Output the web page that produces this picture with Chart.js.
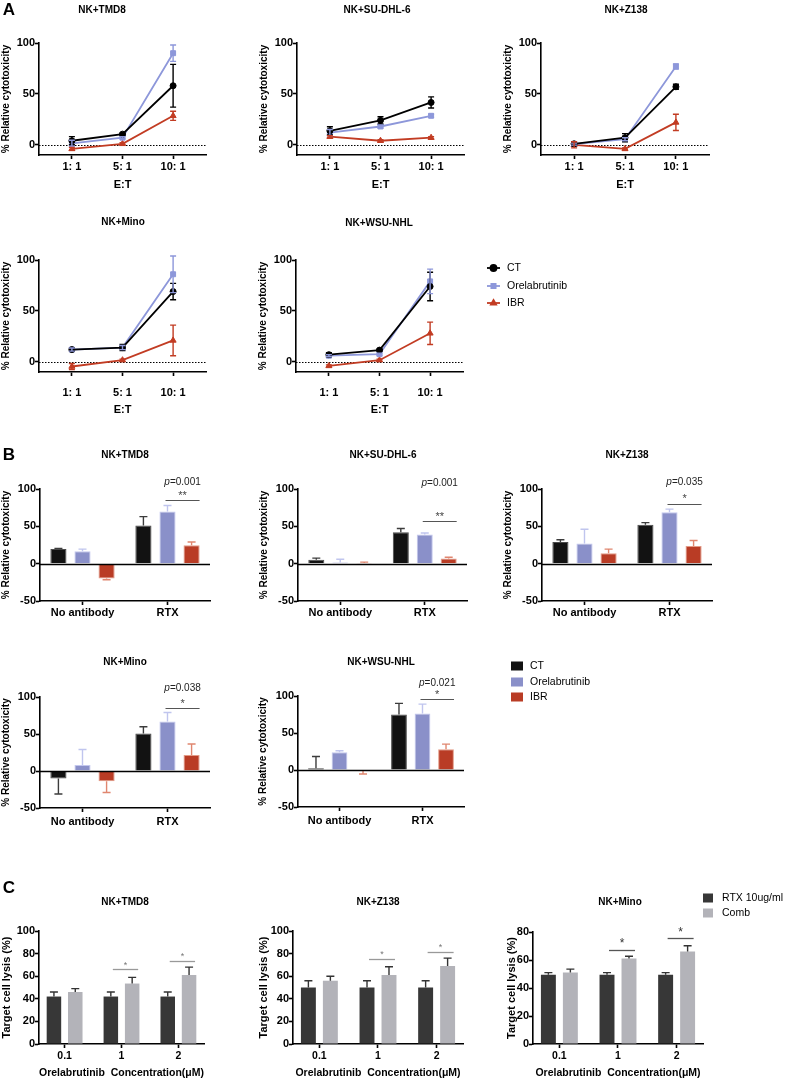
<!DOCTYPE html>
<html>
<head>
<meta charset="utf-8">
<script src="https://cdn.jsdelivr.net/npm/chart.js@4.4.1/dist/chart.umd.min.js"></script>
<style>
  body { margin: 0; background: #fff; width: 791px; height: 1080px; position: relative; overflow: hidden; }
  canvas { position: absolute; }
</style>
</head>
<body>
<script>
// ---- data ----
const etLabels = ['1: 1', '5: 1', '10: 1'];
const bLabels = ['No antibody', 'RTX'];
const cLabels = ['0.1', '1', '2'];
const seriesNames = ['CT', 'Orelabrutinib', 'IBR'];
const cSeriesNames = ['RTX 10ug/ml', 'Comb'];

// panel A: rows CT / Orelabrutinib / IBR, columns E:T 1:1, 5:1, 10:1
const aTMD8 = [[4, 10.5, 58], [1.5, 7, 90], [-4, 1, 28.5]];
const aTMD8Sd = [[4, 1, 21], [3, 1, 8], [1.5, 1, 4.5]];
const aSUDHL6 = [[13.8, 24, 41.6], [12, 18, 28.5], [8, 4, 7]];
const aSUDHL6Sd = [[4, 3.5, 5.5], [3, 1.5, 1.5], [1, 1, 1]];
const aZ138 = [[1, 7, 57], [0.7, 5.5, 77], [0, -4, 22]];
const aZ138Sd = [[2, 4, 2.5], [1, 1.5, 2.5], [3, 1, 8]];
const aMino = [[12, 14, 69], [12, 14, 86], [-4.6, 1.6, 21]];
const aMinoSd = [[1.5, 3, 8], [1.5, 2, 18], [3, 1, 15]];
const aWSU = [[7, 11.5, 74], [6, 7.5, 79], [-4, 1.6, 28]];
const aWSUSd = [[2, 1, 14], [1, 1, 12], [1, 1, 11]];

// panel B: rows CT / Orelabrutinib / IBR, columns No antibody / RTX
const bTMD8 = [[19.5, 51], [16.5, 70], [-20, 24.5]];
const bTMD8Sd = [[1, 12], [3, 8], [1.5, 4.5]];
const bSUDHL6 = [[5.4, 42], [1.5, 39], [1, 6.8]];
const bSUDHL6Sd = [[2, 5], [4.5, 2], [1, 1.7]];
const bZ138 = [[29, 52], [27, 69], [14, 23.5]];
const bZ138Sd = [[3, 3], [19, 4], [5.5, 7.5]];
const bMino = [[-10, 50.7], [8, 67], [-14, 21.5]];
const bMinoSd = [[21, 9], [21, 12], [15, 15]];
const bWSU = [[2.3, 75], [24, 76.5], [-0.5, 28]];
const bWSUSd = [[16, 15], [2, 12.5], [5, 7]];
const bPValues = ['0.001', '0.001', '0.035', '0.038', '0.021'];
const bStars = ['**', '**', '*', '*', '*'];

// panel C: rows RTX 10ug/ml / Comb, columns 0.1, 1, 2 uM
const cTMD8 = [[42, 42, 42], [46, 53.5, 61]];
const cTMD8Sd = [[4, 4, 4], [3, 5.5, 7]];
const cZ138 = [[50, 50, 50], [56, 61, 69]];
const cZ138Sd = [[6, 6, 6], [4, 7.4, 7]];
const cMino = [[49.5, 49.5, 49.5], [51, 61, 66]];
const cMinoSd = [[1.5, 1.5, 1.5], [2.5, 1.7, 4.2]];

// ---- styles ----
const FONT = "'Liberation Sans', Arial, sans-serif";
const lineColors = ['#000000', '#8d97da', '#c23c23'];
const pointStyles = ['circle', 'rect', 'triangle'];
const barFill = ['#121212', '#8a90c9', '#b93c25'];
const barEdge = ['#4a4a4a', '#c3c7ee', '#e39a86'];
const barErr = ['#3c3c3c', '#c0c5ee', '#e0866f'];
const cFill = ['#373737', '#b3b3b9'];

function txt(ctx, s, x, y, font, color, align) {
  ctx.save();
  ctx.font = font;
  ctx.fillStyle = color;
  ctx.textAlign = align || 'center';
  ctx.textBaseline = 'middle';
  ctx.fillText(s, x, y);
  ctx.restore();
}

function zeroLine(chart, z) {
  const {ctx, chartArea: ca, scales: {y}} = chart;
  const py = Math.round(y.getPixelForValue(0)) + 0.5;
  ctx.save();
  ctx.strokeStyle = '#000';
  ctx.lineWidth = z.width;
  ctx.setLineDash(z.dash || []);
  ctx.beginPath();
  ctx.moveTo(ca.left, py);
  ctx.lineTo(ca.right, py);
  ctx.stroke();
  ctx.restore();
}

// error bars, zero line, titles, brackets and legends
const extras = {
  id: 'extras',
  beforeDatasetsDraw(chart, args, o) {
    if (o.zero && !o.zero.front) zeroLine(chart, o.zero);
  },
  afterDatasetsDraw(chart, args, o) {
    const {ctx, scales: {y}} = chart;
    chart.data.datasets.forEach((ds, di) => {
      if (!ds.errors) return;
      const meta = chart.getDatasetMeta(di);
      ctx.save();
      ctx.strokeStyle = ds.errorColor;
      ctx.lineWidth = 1.4;
      meta.data.forEach((el, i) => {
        const d = ds.data[i];
        const v = typeof d === 'object' ? d.y : d;
        const e = ds.errors[i];
        let hi = v + e, lo = v - e;
        if (o.oneSided) {
          if (v >= 0) lo = v; else hi = v;
        }
        const x = el.x, y1 = y.getPixelForValue(hi), y2 = y.getPixelForValue(lo);
        ctx.beginPath();
        ctx.moveTo(x, y1);
        ctx.lineTo(x, y2);
        if (!o.oneSided || v >= 0) { ctx.moveTo(x - o.cap, y1); ctx.lineTo(x + o.cap, y1); }
        if (!o.oneSided || v < 0) { ctx.moveTo(x - o.cap, y2); ctx.lineTo(x + o.cap, y2); }
        ctx.stroke();
      });
      ctx.restore();
    });
    if (o.zero && o.zero.front) zeroLine(chart, o.zero);
  },
  afterDraw(chart, args, o) {
    const {ctx, scales: {y}} = chart;
    const [ox, oy] = o.origin;
    if (o.title) txt(ctx, o.title[0], o.title[1] - ox, o.title[2] - oy, 'bold 10px ' + FONT, '#000');
    if (o.letter) txt(ctx, o.letter[0], o.letter[1] - ox, o.letter[2] - oy, 'bold 17px ' + FONT, '#000');
    (o.brackets || []).forEach(b => {
      const m1 = chart.getDatasetMeta(b.from).data[b.group];
      const m2 = chart.getDatasetMeta(b.to).data[b.group];
      const x1 = m1.x + b.dx1, x2 = m2.x + b.dx2, cx = (x1 + x2) / 2;
      const ly = Math.round(y.getPixelForValue(b.y)) + 0.5;
      ctx.save();
      ctx.strokeStyle = b.lineColor;
      ctx.lineWidth = b.lineWidth;
      ctx.beginPath();
      ctx.moveTo(x1, ly);
      ctx.lineTo(x2, ly);
      ctx.stroke();
      ctx.restore();
      txt(ctx, b.label, cx, y.getPixelForValue(b.labelY), b.font, b.color);
      if (b.p) {
        const f1 = 'italic 10px ' + FONT, f2 = '10px ' + FONT;
        ctx.font = f1;
        const w1 = ctx.measureText('p').width;
        ctx.font = f2;
        const w2 = ctx.measureText('=' + b.p).width;
        const sx = cx - (w1 + w2) / 2, py = y.getPixelForValue(b.pY);
        txt(ctx, 'p', sx, py, f1, '#222', 'left');
        txt(ctx, '=' + b.p, sx + w1, py, f2, '#222', 'left');
      }
    });
    if (o.legend) {
      const L = o.legend;
      L.items.forEach((it, i) => {
        const yy = L.y[i] - oy, x0 = L.x - ox;
        ctx.save();
        if (L.kind === 'line') {
          ctx.strokeStyle = it.color;
          ctx.lineWidth = 1.8;
          ctx.beginPath();
          ctx.moveTo(x0, yy);
          ctx.lineTo(x0 + L.w, yy);
          ctx.stroke();
          ctx.fillStyle = it.color;
          Chart.helpers.drawPoint(ctx, {pointStyle: it.style, radius: 3, rotation: 0, borderWidth: 1}, x0 + L.w / 2, yy);
        } else {
          ctx.fillStyle = it.color;
          ctx.fillRect(x0, yy - L.h / 2, L.w, L.h);
        }
        ctx.restore();
        txt(ctx, it.label, L.textX - ox, yy, '10.5px ' + FONT, '#000', 'left');
      });
    }
  }
};

function makeCanvas(box) {
  const c = document.createElement('canvas');
  c.width = box[2];
  c.height = box[3];
  c.style.left = box[0] + 'px';
  c.style.top = box[1] + 'px';
  c.style.width = box[2] + 'px';
  c.style.height = box[3] + 'px';
  document.body.appendChild(c);
  return c;
}

function build(spec) {
  const [cx, cy, cw, ch] = spec.box;
  const [pl, pt, pr, pb] = spec.plot;
  const canvas = makeCanvas(spec.box);
  const yW = pl - cx, xH = cy + ch - pb;
  const xTicks = {color: '#000', font: {family: FONT, size: spec.xTickSize || 11, weight: 'bold'}, padding: spec.xPad, maxRotation: 0, autoSkip: false};
  if (spec.xCallback) xTicks.callback = spec.xCallback;
  const x = {
    afterFit: s => { s.height = xH; },
    border: {display: true, color: '#000', width: 1.6},
    grid: {drawOnChartArea: false, drawTicks: true, tickLength: spec.xTickLen || 4, tickColor: '#000', tickWidth: 1.6, offset: false},
    ticks: xTicks,
    title: {display: !!spec.xTitle, text: spec.xTitle || '', color: '#000',
      font: {family: FONT, size: spec.xTitleSize || 11, weight: 'bold'}, padding: {top: 0, bottom: spec.xTitlePad || 0}}
  };
  Object.assign(x, spec.x || {});
  const yAxis = {
    min: spec.yMin, max: spec.yMax,
    afterFit: s => { s.width = yW; },
    afterBuildTicks: s => { s.ticks = spec.yTicks.map(v => ({value: v})); },
    border: {display: true, color: '#000', width: 1.6},
    grid: {drawOnChartArea: false, drawTicks: true, tickLength: 4, tickColor: '#000', tickWidth: 1.6},
    ticks: {color: '#000', font: {family: FONT, size: 11, weight: 'bold'}, padding: 0},
    title: {display: true, text: spec.yTitle, color: '#000',
      font: {family: FONT, size: spec.yTitleSize || 10, weight: 'bold'}, padding: {top: spec.yTitlePad || 0, bottom: 0}}
  };
  return new Chart(canvas, {
    type: spec.type,
    data: {labels: spec.labels, datasets: spec.datasets},
    options: {
      responsive: false,
      animation: false,
      devicePixelRatio: 1,
      layout: {padding: {left: 0, top: pt - cy, right: cx + cw - pr, bottom: 0}},
      plugins: {
        legend: {display: false},
        tooltip: {enabled: false},
        extras: Object.assign({origin: [cx, cy]}, spec.extras)
      },
      scales: {x: x, y: yAxis}
    },
    plugins: [extras]
  });
}

// ---- panel A: line charts ----
function lineSets(vals, sds) {
  return vals.map((row, k) => ({
    label: seriesNames[k],
    data: row.map((v, i) => ({x: i + 1, y: v})),
    errors: sds[k],
    errorColor: lineColors[k],
    borderColor: lineColors[k],
    backgroundColor: lineColors[k],
    borderWidth: 1.8,
    pointStyle: pointStyles[k],
    pointRadius: k === 0 ? 3 : 3.5,
    pointBorderWidth: 1,
    tension: 0
  }));
}

function aChart(vals, sds, box, plot, title, more) {
  build({
    type: 'line', box: box, plot: plot,
    datasets: lineSets(vals, sds),
    x: {type: 'linear', min: 0.35, max: 3.65, afterBuildTicks: s => { s.ticks = etLabels.map((l, i) => ({value: i + 1})); }},
    xCallback: v => etLabels[v - 1],
    xPad: more.xPad, xTitle: 'E:T', xTitlePad: 3,
    yMin: -10, yMax: 100, yTicks: [0, 50, 100], yTitle: '% Relative cytotoxicity',
    extras: Object.assign({title: title, zero: {dash: [1.5, 1.5], width: 1}, cap: 3}, more.extras || {})
  });
}

aChart(aTMD8, aTMD8Sd, [0, 0, 255, 195], [39, 43, 206, 155], ['NK+TMD8', 102, 10], {xPad: 1, extras: {letter: ['A', 9, 10]}});
aChart(aSUDHL6, aSUDHL6Sd, [258, 0, 240, 195], [297, 43, 464, 155], ['NK+SU-DHL-6', 377, 10], {xPad: 1});
aChart(aZ138, aZ138Sd, [502, 0, 240, 195], [541, 43, 709, 155], ['NK+Z138', 626, 10], {xPad: 1});
aChart(aMino, aMinoSd, [0, 217, 255, 203], [39, 260, 206, 372], ['NK+Mino', 123, 222], {xPad: 10});
aChart(aWSU, aWSUSd, [257, 217, 340, 203], [296, 260, 463, 372], ['NK+WSU-NHL', 379, 223], {xPad: 10, extras: {
  legend: {kind: 'line', x: 487, w: 13, textX: 507, y: [268, 286, 303],
    items: seriesNames.map((n, k) => ({label: n, color: lineColors[k], style: pointStyles[k]}))}
}});

// ---- panel B: grouped bars ----
function barSets(vals, sds) {
  return vals.map((row, k) => ({
    label: seriesNames[k],
    data: row,
    errors: sds[k],
    errorColor: barErr[k],
    backgroundColor: barFill[k],
    borderColor: barEdge[k],
    borderWidth: 1,
    categoryPercentage: 0.85,
    barPercentage: 0.67
  }));
}

function bChart(vals, sds, idx, box, plot, title, br, more) {
  build({
    type: 'bar', box: box, plot: plot, labels: bLabels,
    datasets: barSets(vals, sds),
    x: {type: 'category', offset: true},
    xPad: more.xPad,
    yMin: -50, yMax: 100, yTicks: [-50, 0, 50, 100], yTitle: '% Relative cytotoxicity',
    extras: Object.assign({
      title: title, oneSided: true, cap: 4, zero: {width: 1.6, front: true},
      brackets: [{group: 1, from: 1, to: 2, dx1: -2, dx2: 8, y: br[0], labelY: br[1], pY: br[2],
        label: bStars[idx], p: bPValues[idx], font: '11px ' + FONT, color: '#444', lineColor: '#555', lineWidth: 1}]
    }, more.extras || {})
  });
}

bChart(bTMD8, bTMD8Sd, 0, [0, 440, 255, 185], [40, 489, 210, 601], ['NK+TMD8', 125, 455], [85, 91, 109], {xPad: 1, extras: {letter: ['B', 9, 455]}});
bChart(bSUDHL6, bSUDHL6Sd, 1, [258, 440, 240, 185], [298, 489, 467, 601], ['NK+SU-DHL-6', 383, 455], [57, 62, 108], {xPad: 1});
bChart(bZ138, bZ138Sd, 2, [502, 440, 240, 185], [542, 489, 712, 601], ['NK+Z138', 627, 455], [80, 87, 109], {xPad: 1});
bChart(bMino, bMinoSd, 3, [0, 648, 255, 185], [40, 697, 210, 808], ['NK+Mino', 125, 662], [85, 91, 112], {xPad: 3});
bChart(bWSU, bWSUSd, 4, [257, 648, 345, 185], [298, 696, 464, 807], ['NK+WSU-NHL', 381, 662], [96, 101, 117], {xPad: 3, extras: {
  legend: {kind: 'box', x: 511, w: 12, h: 9, textX: 530, y: [666, 682, 697],
    items: seriesNames.map((n, k) => ({label: n, color: barFill[k]}))}
}});

// ---- panel C: paired bars ----
function cSets(vals, sds) {
  return vals.map((row, k) => ({
    label: cSeriesNames[k],
    data: row.map((v, i) => ({x: i, y: v})),
    errors: sds[k],
    errorColor: '#333333',
    backgroundColor: cFill[k],
    borderWidth: 0,
    categoryPercentage: 0.75,
    barPercentage: 0.68
  }));
}

function cChart(vals, sds, box, plot, title, yMax, br, more) {
  const yTicks = [];
  for (let v = 0; v <= yMax; v += 20) yTicks.push(v);
  const strong = !!more.strong;
  build({
    type: 'bar', box: box, plot: plot,
    datasets: cSets(vals, sds),
    x: {type: 'linear', offset: false, min: -0.45, max: 2.45, afterBuildTicks: s => { s.ticks = cLabels.map((l, i) => ({value: i})); }},
    xCallback: v => cLabels[v],
    xPad: 2, xTickSize: 10.5, xTitle: 'Orelabrutinib  Concentration(\u03bcM)', xTitleSize: 10.5, xTitlePad: 1,
    yMin: 0, yMax: yMax, yTicks: yTicks, yTitle: 'Target cell lysis (%)', yTitleSize: 11,
    extras: Object.assign({
      title: title, oneSided: true, cap: 4,
      brackets: br.map(b => ({group: b[0], from: 0, to: 1, dx1: 2, dx2: 6, y: b[1], labelY: b[2],
        label: '*', font: (strong ? '12px ' : '9px ') + FONT, color: strong ? '#333' : '#777',
        lineColor: strong ? '#555' : '#999', lineWidth: 1.3}))
    }, more.extras || {})
  });
}

cChart(cTMD8, cTMD8Sd, [0, 880, 255, 200], [39, 931, 204, 1044], ['NK+TMD8', 125, 902], 100,
  [[1, 66, 69.5], [2, 73.5, 77]], {extras: {letter: ['C', 9, 888]}});
cChart(cZ138, cZ138Sd, [257, 880, 250, 200], [293, 931, 463, 1044], ['NK+Z138', 378, 902], 100,
  [[1, 75, 79.5], [2, 81, 85]], {});
cChart(cMino, cMinoSd, [505, 880, 286, 200], [533, 932, 703, 1044], ['NK+Mino', 620, 902], 80,
  [[1, 67.5, 71.5], [2, 75.8, 79.5]], {strong: true, extras: {
    legend: {kind: 'box', x: 703, w: 10, h: 9, textX: 722, y: [898, 913],
      items: cSeriesNames.map((n, k) => ({label: n, color: cFill[k]}))}
  }});
</script>
</body>
</html>
